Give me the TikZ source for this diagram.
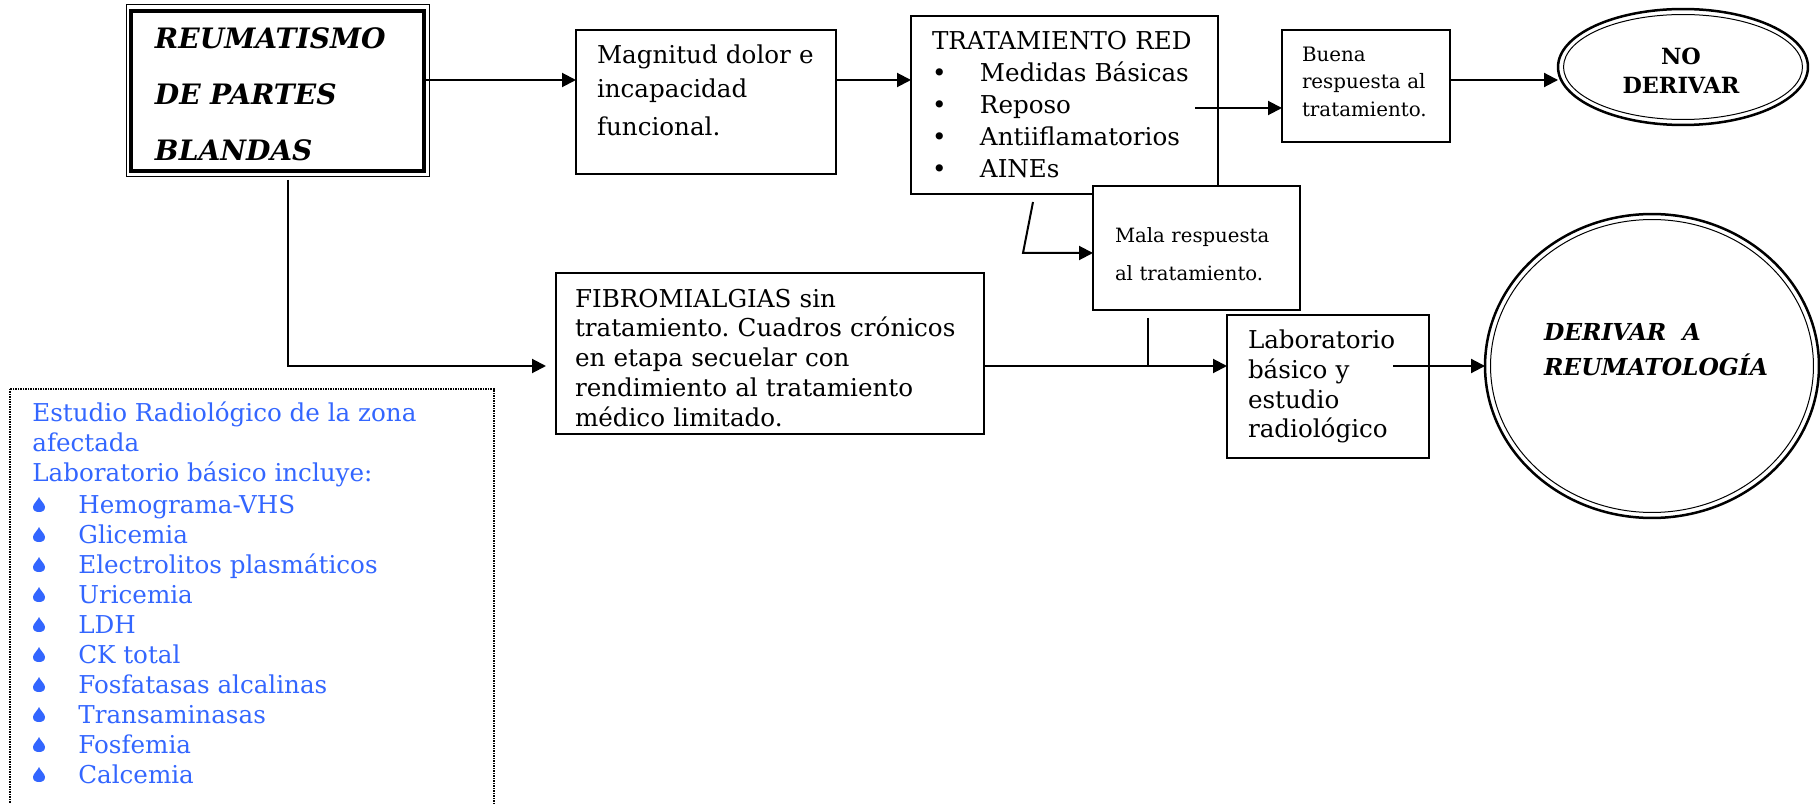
\documentclass[tikz,border=0pt]{standalone}
\usepackage{fontspec}
\setmainfont{DejaVu Serif}
\usetikzlibrary{arrows.meta,shapes.geometric}
\definecolor{azul}{RGB}{51,102,255}
\newcommand{\relleno}[1]{\par\vspace{#1}\hrule height 0pt depth 0pt}

\begin{document}
\frenchspacing
\begin{tikzpicture}[x=0.02cm, y=-0.02cm,
        caja/.style={draw, fill=white, line width=0.04cm, outer sep=0pt, anchor=north west,
            align=left, inner ysep=0pt, font=\fontsize{14pt}{17pt}\selectfont},
        salida/.style={ellipse, draw, fill=white, line width=0.05cm, outer sep=0pt, inner sep=0pt},
        flecha/.style={line width=0.04cm, -{Triangle[length=0.28cm, width=0.28cm]}},
        linea/.style={line width=0.04cm},
        lista/.style={anchor=base west, inner sep=0pt, text=azul, font=\fontsize{14pt}{17pt}\selectfont}]
    \useasboundingbox (0,0) rectangle (1820,804);

    \coordinate (f1) at (0,80);
    \coordinate (r1) at (288,366);
    \coordinate (t1) at (1195,108);
    \coordinate (t2) at (1033,202);
    \coordinate (t3) at (1023,253);
    \coordinate (t4) at (1148,318);
    \coordinate (t5) at (1393,366);

    % cajas
    \node[caja, line width=0.08cm, inner xsep=0.48cm, text width=4.9cm, minimum height=3.2cm,
        font=\fontsize{16pt}{32pt}\selectfont\bfseries\itshape] (reum) at (131,11)
        {REUMATISMO\\DE PARTES\\BLANDAS\relleno{-4pt}};
    \draw[line width=0.02cm] ([shift={(-5,-6)}]reum.north west) rectangle ([shift={(6,6)}]reum.south east);

    \node[caja, inner xsep=0.42cm, text width=4.36cm, minimum height=2.88cm,
        font=\fontsize{14pt}{19pt}\selectfont] (mag) at (576,30)
        {Magnitud dolor e\\incapacidad\\[3pt]funcional.\relleno{13pt}};
    \node[caja, inner xsep=0.42cm, text width=5.3cm, minimum height=3.56cm,
        font=\fontsize{14pt}{18.2pt}\selectfont] (trat) at (911,16)
        {TRATAMIENTO RED\\
         \makebox[0.96cm][l]{•}Medidas Básicas\\
         \makebox[0.96cm][l]{•}Reposo\\
         \makebox[0.96cm][l]{•}Antiiflamatorios\\
         \makebox[0.96cm][l]{•}AINEs};
    \node[caja, inner xsep=0.4cm, text width=2.56cm, minimum height=2.24cm,
        font=\fontsize{11.3pt}{15.6pt}\selectfont] (buena) at (1282,30)
        {Buena\\respuesta al\\tratamiento.\relleno{5pt}};
    \node[caja, inner xsep=0.44cm, text width=3.26cm, minimum height=2.48cm,
        font=\fontsize{11.2pt}{21.6pt}\selectfont] (mala) at (1093,186)
        {Mala respuesta\\al tratamiento.\relleno{-7pt}};
    \node[caja, inner xsep=0.38cm, text width=7.8cm, minimum height=3.22cm] (fibro) at (556,273)
        {FIBROMIALGIAS sin\\tratamiento. Cuadros crónicos\\en etapa secuelar con\\rendimiento al tratamiento\\médico limitado.\relleno{-5pt}};
    \node[caja, inner xsep=0.42cm, text width=3.2cm, minimum height=2.86cm] (lab) at (1227,315)
        {Laboratorio\\básico y\\estudio\\radiológico};

    % salidas
    \node[salida, minimum width=5cm, minimum height=2.32cm] (no) at (1683,67) {};
    \draw[line width=0.02cm] (no.center) ellipse [x radius=2.39cm, y radius=1.05cm];
    \node[align=center, font=\fontsize{12.7pt}{16.5pt}\selectfont\bfseries] (notxt) at (1681,71) {NO\\DERIVAR};
    \node[salida, minimum width=6.68cm, minimum height=6.08cm] (der) at (1652,366) {};
    \draw[line width=0.02cm] (der.center) ellipse [x radius=3.23cm, y radius=2.93cm];
    \node[align=left, font=\fontsize{13.3pt}{20pt}\selectfont\bfseries\itshape] (dertxt) at (1656,350)
        {DERIVAR\ \ A\\REUMATOLOGÍA};

    % examenes
    \draw[line width=0.025cm, dash pattern=on 0.03cm off 0.02cm] (10,389) rectangle (494,812);
    \node[lista] (est1) at (32,421) {Estudio Radiológico de la zona};
    \node[lista] (est2) at (32,451) {afectada};
    \node[lista] (est3) at (32,481) {Laboratorio básico incluye:};
    \foreach \txt [count=\i] in {Hemograma-VHS, Glicemia, Electrolitos plasmáticos, Uricemia, LDH,
            CK total, Fosfatasas alcalinas, Transaminasas, Fosfemia, Calcemia} {
        \fill[azul, shift={(39,475+30*\i)}] (0,-8) .. controls (1,-5) and (6,-1) .. (6,2)
            .. controls (6,5.5) and (3.5,7) .. (0,7) .. controls (-3.5,7) and (-6,5.5) .. (-6,2)
            .. controls (-6,-1) and (-1,-5) .. cycle;
        \node[lista] (item\i) at (78,483+30*\i) {\txt};
    }

    % flechas
    \draw[flecha] (reum.east |- f1) -- (mag.west |- f1);
    \draw[flecha] (mag.east |- f1) -- (trat.west |- f1);
    \draw[flecha] (t1) -- (buena.west |- t1);
    \draw[flecha] (buena.east |- f1) -- (no.west |- f1);
    \draw[flecha] (t2) -- (t3) -- (mala.west |- t3);
    \draw[flecha, shorten <=0.18cm, shorten >=0.2cm] (reum.south -| r1) -- (r1) -- (fibro.west |- r1);
    \draw[flecha] (fibro.east |- r1) -- (lab.west |- r1);
    \draw[linea] (t4) -- (t4 |- r1);
    \draw[flecha] (t5) -- (der.west);
\end{tikzpicture}
\end{document}
